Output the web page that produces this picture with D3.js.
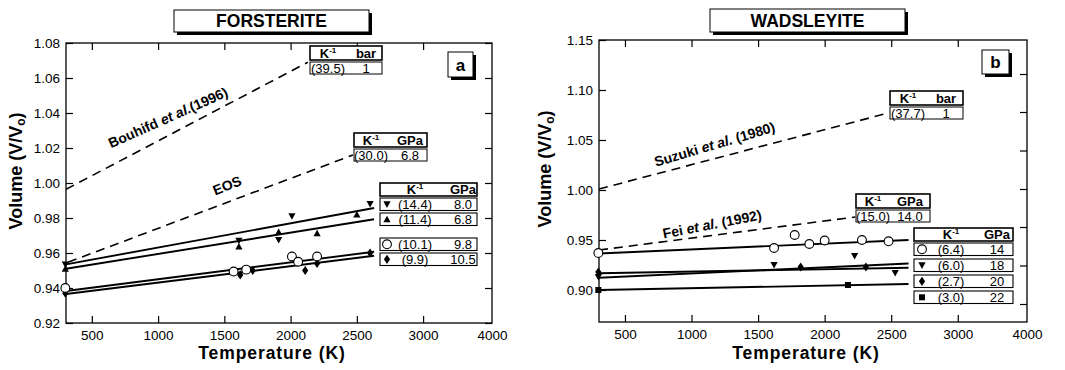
<!DOCTYPE html>
<html><head><meta charset="utf-8">
<script src="https://cdn.jsdelivr.net/npm/d3@7"></script>
<style>
body{margin:0;background:#fff}
svg{display:block}
text{font-family:"Liberation Sans",Arial,Helvetica,sans-serif;fill:#000}
</style>
</head><body>
<svg id="chart" width="1065" height="370"></svg>
<script>
// ---------------- DATA ----------------
const xDomain = [305, 3520];
const xTicks = [500, 1000, 1500, 2000, 2500, 3000];
const xLabelValues = [500, 1000, 1500, 2000, 2500, 3000, 3520];
const xLabels = ["500", "1000", "1500", "2000", "2500", "3000", "4000"];

const yDomainA = [0.92, 1.08];
const yTicksA = [0.92, 0.94, 0.96, 0.98, 1.00, 1.02, 1.04, 1.06, 1.08];
const yDomainB = [0.868, 1.15];
const yTicksB = [0.90, 0.95, 1.00, 1.05, 1.10, 1.15];
const yRightTicksB = [0.886, 0.9245, 0.963, 1.001, 1.0395, 1.078, 1.116];

const titles = ["FORSTERITE", "WADSLEYITE"];
const panelLetters = ["a", "b"];
const xTitle = "Temperature (K)";

// Forsterite (panel a)
const foBouhifd = [[305, 0.9964], [2130, 1.069]];
const foEOS = [[320, 0.9547], [2470, 1.016]];
const foTdownPts = [[300, 0.9535], [1610, 0.967], [1910, 0.9675], [2010, 0.981], [2600, 0.988]];
const foTupPts = [[300, 0.951], [1610, 0.9637], [1910, 0.972], [2200, 0.9713], [2500, 0.982]];
const foCirclePts = [[300, 0.940], [1570, 0.9494], [1665, 0.9505], [2010, 0.958], [2057, 0.955], [2200, 0.958]];
const foDiamondPts = [[300, 0.937], [1620, 0.9475], [1714, 0.950], [2110, 0.950], [2200, 0.954], [2600, 0.960]];
const foTdownFit = [[305, 0.9535], [2630, 0.9857]];
const foTupFit = [[305, 0.951], [2630, 0.9793]];
const foCircleFit = [[305, 0.9383], [2630, 0.9607]];
const foDiamondFit = [[305, 0.9366], [2630, 0.9584]];

// Wadsleyite (panel b)
const waSuzuki = [[305, 1.001], [2478, 1.077]];
const waFei = [[305, 0.940], [2230, 0.973]];
const waCirclePts = [[300, 0.937], [1620, 0.942], [1775, 0.955], [1885, 0.946], [2000, 0.9495], [2280, 0.950], [2480, 0.9487]];
const waTdownPts = [[300, 0.913], [1620, 0.925], [2225, 0.934], [2530, 0.917]];
const waDiamondPts = [[300, 0.918], [1820, 0.923], [2310, 0.923]];
const waSquarePts = [[300, 0.900], [2175, 0.905]];
const waCircleFit = [[305, 0.9365], [2630, 0.950]];
const waTdownFit = [[305, 0.9123], [2630, 0.9265]];
const waDiamondFit = [[305, 0.9167], [2630, 0.9223]];
const waSquareFit = [[305, 0.900], [2630, 0.906]];

// Legend table texts
const foBouhifdTable = {head: ["K", "bar"], row: ["(39.5)", "1"]};
const foEOSTable = {head: ["K", "GPa"], row: ["(30.0)", "6.8"]};
const foLegendSymbols = ["tdown", "tup", "circle", "diamond"];
const foLegendAlpha = ["(14.4)", "(11.4)", "(10.1)", "(9.9)"];
const foLegendP = ["8.0", "6.8", "9.8", "10.5"];
const waSuzukiTable = {head: ["K", "bar"], row: ["(37.7)", "1"]};
const waFeiTable = {head: ["K", "GPa"], row: ["(15.0)", "14.0"]};
const waLegendSymbols = ["circle", "tdown", "diamond", "square"];
const waLegendAlpha = ["(6.4)", "(6.0)", "(2.7)", "(3.0)"];
const waLegendP = ["14", "18", "20", "22"];

// Line annotation texts: [before, italic, after]
const labBouhifd = ["Bouhifd ", "et al.", "(1996)"];
const labEOS = ["EOS", "", ""];
const labSuzuki = ["Suzuki ", "et al.", " (1980)"];
const labFei = ["Fei ", "et al.", " (1992)"];

// ---------------- DRAW ----------------
const svg = d3.select("#chart");
const FONT = '"Liberation Sans",Arial,Helvetica,sans-serif';

function symPath(t) {
  switch (t) {
    case "tdown": return "M-3.6,-3L3.6,-3L0,3.6Z";
    case "tup": return "M-3.6,3L3.6,3L0,-3.6Z";
    case "diamond": return "M0,-4.6L3.1,0L0,4.6L-3.1,0Z";
    case "square": return "M-3,-3H3V3H-3Z";
  }
}
function drawSym(g, t, cx, cy) {
  if (t === "circle") {
    g.append("circle").attr("cx", cx).attr("cy", cy).attr("r", 4.4)
      .attr("fill", "#fff").attr("stroke", "#000").attr("stroke-width", 1.1);
  } else {
    g.append("path").attr("d", symPath(t)).attr("transform", `translate(${cx},${cy})`)
      .attr("fill", "#000");
  }
}

function panel(p) {
  const x = d3.scaleLinear().domain(xDomain).range([p.x0, p.x1]);
  const y = d3.scaleLinear().domain(p.yDomain).range([p.y1, p.y0]);
  const g = svg.append("g");
  const line = d3.line().x(d => x(d[0])).y(d => y(d[1]));

  // axes ticks (inside)
  const styleAxis = a => { a.select(".domain").remove(); a.selectAll("line").attr("stroke", "#000").attr("stroke-width", 1.2); };
  g.append("g").attr("transform", `translate(0,${p.y1})`)
    .call(d3.axisBottom(x).tickValues(xTicks).tickSize(-7).tickFormat("")).call(styleAxis);
  g.append("g").attr("transform", `translate(0,${p.y0})`)
    .call(d3.axisTop(x).tickValues(xTicks).tickSize(-7).tickFormat("")).call(styleAxis);
  g.append("g").attr("transform", `translate(${p.x0},0)`)
    .call(d3.axisLeft(y).tickValues(p.yTicks).tickSize(-7).tickFormat("")).call(styleAxis);
  g.append("g").attr("transform", `translate(${p.x1},0)`)
    .call(d3.axisRight(y).tickValues(p.yRightTicks).tickSize(-7).tickFormat("")).call(styleAxis);

  // tick labels
  const xl = g.append("g").attr("transform", `translate(0,${p.y1})`)
    .call(d3.axisBottom(x).tickValues(xLabelValues).tickSize(0).tickPadding(7)
      .tickFormat((d, i) => xLabels[i]));
  xl.select(".domain").remove();
  xl.selectAll("text").attr("font-size", 13.5).attr("font-family", FONT);
  const yl = g.append("g").attr("transform", `translate(${p.x0},0)`)
    .call(d3.axisLeft(y).tickValues(p.yTicks).tickSize(0).tickPadding(6)
      .tickFormat(d3.format(".2f")));
  yl.select(".domain").remove();
  yl.selectAll("text").attr("font-size", 13.5).attr("font-family", FONT);

  // frame
  g.append("rect").attr("x", p.x0).attr("y", p.y0).attr("width", p.x1 - p.x0)
    .attr("height", p.y1 - p.y0).attr("fill", "none").attr("stroke", "#000").attr("stroke-width", 1.3);

  // axis titles
  g.append("text").attr("x", (p.x0 + p.x1) / 2 - 7).attr("y", 359)
    .attr("text-anchor", "middle").attr("font-size", 17.5).attr("letter-spacing", 0.9)
    .attr("font-weight", "bold").text(xTitle);
  const yt = g.append("text").attr("transform", `translate(${p.yTitleX},${(p.y0 + p.y1) / 2 - 12}) rotate(-90)`)
    .attr("text-anchor", "middle").attr("font-size", 18).attr("font-weight", "bold");
  yt.append("tspan").text("Volume (V/V");
  yt.append("tspan").attr("font-size", 12).attr("dy", 3).text("o");
  yt.append("tspan").attr("dy", -3).text(")");

  // title box with shadow
  const tb = p.titleBox;
  g.append("rect").attr("x", tb[0] + 3).attr("y", tb[1] + 3).attr("width", tb[2]).attr("height", tb[3]).attr("fill", "#000");
  g.append("rect").attr("x", tb[0]).attr("y", tb[1]).attr("width", tb[2]).attr("height", tb[3])
    .attr("fill", "#fff").attr("stroke", "#000").attr("stroke-width", 1);
  g.append("text").attr("x", tb[0] + tb[2] / 2).attr("y", tb[1] + tb[3] / 2 + 6)
    .attr("text-anchor", "middle").attr("font-size", 17.5).attr("font-weight", "bold").text(p.title);

  // panel letter box
  const lb = p.letterBox;
  g.append("rect").attr("x", lb[0] + 3).attr("y", lb[1] + 3).attr("width", lb[2]).attr("height", lb[3]).attr("fill", "#000");
  g.append("rect").attr("x", lb[0]).attr("y", lb[1]).attr("width", lb[2]).attr("height", lb[3])
    .attr("fill", "#fff").attr("stroke", "#000").attr("stroke-width", 1);
  g.append("text").attr("x", lb[0] + lb[2] / 2).attr("y", lb[1] + lb[3] / 2 + 6)
    .attr("text-anchor", "middle").attr("font-size", 17).attr("font-weight", "bold").text(p.letter);

  // dashed lines
  p.dashed.forEach(d => g.append("path").attr("d", line(d)).attr("fill", "none")
    .attr("stroke", "#000").attr("stroke-width", 1.6).attr("stroke-dasharray", "9,6"));
  // fit lines
  p.fits.forEach(d => g.append("path").attr("d", line(d)).attr("fill", "none")
    .attr("stroke", "#000").attr("stroke-width", 1.9));
  // points
  p.series.forEach(s => s.pts.forEach(pt => drawSym(g, s.sym, x(pt[0]), y(pt[1]))));

  // annotations
  p.labels.forEach(l => {
    const t = g.append("text").attr("transform", `translate(${l.cx},${l.cy}) rotate(${l.angle})`)
      .attr("text-anchor", "middle").attr("font-size", l.size).attr("font-weight", "bold");
    t.append("tspan").text(l.text[0]);
    if (l.text[1]) t.append("tspan").attr("font-style", "italic").text(l.text[1]);
    if (l.text[2]) t.append("tspan").text(l.text[2]);
  });

  // small two-row tables
  p.tables.forEach(tb2 => {
    const [bx, by, bw] = tb2.box;
    g.append("rect").attr("x", bx).attr("y", by).attr("width", bw).attr("height", 14)
      .attr("fill", "#fff").attr("stroke", "#000").attr("stroke-width", 1.6);
    g.append("rect").attr("x", bx).attr("y", by + 16).attr("width", bw).attr("height", 12)
      .attr("fill", "#fff").attr("stroke", "#000").attr("stroke-width", 1);
    const h = g.append("text").attr("x", tb2.cols[0]).attr("y", by + 11.5).attr("text-anchor", "middle")
      .attr("font-size", 13).attr("font-weight", "bold");
    h.append("tspan").text(tb2.t.head[0]);
    h.append("tspan").attr("font-size", 8).attr("dy", -5).text("-1");
    g.append("text").attr("x", tb2.cols[1]).attr("y", by + 11.5).attr("text-anchor", "middle")
      .attr("font-size", 13).attr("font-weight", "bold").text(tb2.t.head[1]);
    g.append("text").attr("x", tb2.cols[0]).attr("y", by + 26.5).attr("text-anchor", "middle")
      .attr("font-size", 13).text(tb2.t.row[0]);
    g.append("text").attr("x", tb2.cols[1]).attr("y", by + 26.5).attr("text-anchor", "middle")
      .attr("font-size", 13).text(tb2.t.row[1]);
  });

  // multi-row legend
  const L = p.legend;
  g.append("rect").attr("x", L.x).attr("y", L.headY).attr("width", L.w).attr("height", 13)
    .attr("fill", "#fff").attr("stroke", "#000").attr("stroke-width", 1.6);
  const hh = g.append("text").attr("x", L.cols[0]).attr("y", L.headY + 11).attr("text-anchor", "middle")
    .attr("font-size", 13).attr("font-weight", "bold");
  hh.append("tspan").text("K");
  hh.append("tspan").attr("font-size", 8).attr("dy", -5).text("-1");
  g.append("text").attr("x", L.cols[1]).attr("y", L.headY + 11).attr("text-anchor", "middle")
    .attr("font-size", 13).attr("font-weight", "bold").text("GPa");
  L.syms.forEach((s, i) => {
    const ry = L.rowY[i];
    g.append("rect").attr("x", L.x).attr("y", ry).attr("width", L.w).attr("height", 12.5)
      .attr("fill", "#fff").attr("stroke", "#000").attr("stroke-width", 1.1);
    drawSym(g, s, L.symX, ry + 6.3);
    g.append("text").attr("x", L.cols[0]).attr("y", ry + 11).attr("text-anchor", "middle")
      .attr("font-size", 13).text(L.alpha[i]);
    g.append("text").attr("x", L.cols[1]).attr("y", ry + 11).attr("text-anchor", "middle")
      .attr("font-size", 13).text(L.press[i]);
  });
}

panel({
  x0: 66, x1: 492, y0: 43, y1: 323, yDomain: yDomainA, yTicks: yTicksA, yRightTicks: yTicksA,
  yTitleX: 22, title: titles[0], titleBox: [174, 10, 195, 22], letter: panelLetters[0], letterBox: [448, 52, 25, 25],
  dashed: [foBouhifd, foEOS],
  fits: [foTdownFit, foTupFit, foCircleFit, foDiamondFit],
  series: [{sym: "tdown", pts: foTdownPts}, {sym: "tup", pts: foTupPts},
           {sym: "diamond", pts: foDiamondPts}, {sym: "circle", pts: foCirclePts}],
  labels: [{text: labBouhifd, cx: 170, cy: 122, angle: -24, size: 14},
           {text: labEOS, cx: 229, cy: 190, angle: -22, size: 14}],
  tables: [{t: foBouhifdTable, box: [310, 46, 72], cols: [328, 366]},
           {t: foEOSTable, box: [354, 133, 73], cols: [371, 410]}],
  legend: {x: 380, w: 97, headY: 183, rowY: [198, 213, 238, 253], symX: 387, cols: [415, 463],
           syms: foLegendSymbols, alpha: foLegendAlpha, press: foLegendP}
});

panel({
  x0: 599, x1: 1027, y0: 40, y1: 322, yDomain: yDomainB, yTicks: yTicksB, yRightTicks: yRightTicksB,
  yTitleX: 551, title: titles[1], titleBox: [710, 9, 195, 23], letter: panelLetters[1], letterBox: [982, 50, 27, 24],
  dashed: [waSuzuki, waFei],
  fits: [waCircleFit, waTdownFit, waDiamondFit, waSquareFit],
  series: [{sym: "tdown", pts: waTdownPts}, {sym: "diamond", pts: waDiamondPts},
           {sym: "square", pts: waSquarePts}, {sym: "circle", pts: waCirclePts}],
  labels: [{text: labSuzuki, cx: 716, cy: 149, angle: -16.5, size: 14},
           {text: labFei, cx: 713, cy: 229, angle: -11, size: 14}],
  tables: [{t: waSuzukiTable, box: [890, 91, 73], cols: [908, 946]},
           {t: waFeiTable, box: [856, 194, 74], cols: [873, 910]}],
  legend: {x: 914, w: 99, headY: 228, rowY: [243, 259, 275, 291], symX: 922, cols: [951, 997],
           syms: waLegendSymbols, alpha: waLegendAlpha, press: waLegendP}
});
</script>
</body></html>
